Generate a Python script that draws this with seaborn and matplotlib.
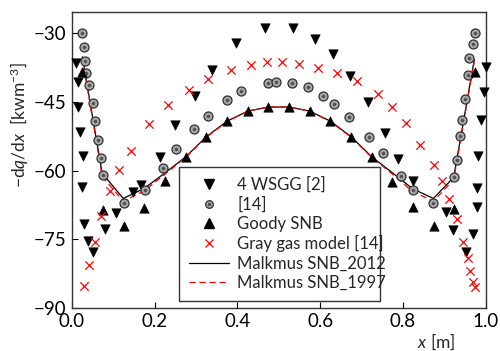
import matplotlib
matplotlib.use("Agg")
import matplotlib.pyplot as plt
import seaborn as sns
import pandas as pd
from matplotlib.lines import Line2D

# ---- data ----
wsgg_x = [0.010, 0.014, 0.015, 0.019, 0.026, 0.023, 0.029, 0.039, 0.050, 0.080, 0.106, 0.147,
          0.168, 0.213, 0.249, 0.297, 0.338, 0.396, 0.467, 0.535, 0.587, 0.632, 0.672, 0.716,
          0.757, 0.788, 0.824, 0.904, 0.922, 0.952, 0.969, 0.980, 0.980, 0.981, 0.990, 0.996, 1.000]
wsgg_y = [-36.4, -40.6, -46.1, -51.5, -56.8, -63.7, -71.8, -75.4, -77.8, -72.8, -69.2, -64.8,
          -63.2, -57.0, -50.1, -43.7, -37.9, -32.0, -28.8, -28.8, -31.3, -34.6, -39.3, -45.1,
          -51.7, -57.4, -62.2, -69.1, -73.0, -77.9, -73.8, -63.9, -67.9, -56.8, -49.0, -42.8, -37.3]

ref14_x = [0.023, 0.028, 0.032, 0.035, 0.042, 0.050, 0.055, 0.063, 0.069, 0.074, 0.126, 0.176,
           0.219, 0.251, 0.294, 0.330, 0.375, 0.409, 0.473, 0.494, 0.531, 0.570, 0.607, 0.634,
           0.671, 0.719, 0.753, 0.795, 0.825, 0.873, 0.924, 0.930, 0.938, 0.942, 0.950, 0.958,
           0.960, 0.969, 0.974]
ref14_y = [-29.9, -33.0, -36.1, -38.6, -41.2, -45.3, -49.1, -53.3, -57.2, -61.0, -67.0, -64.3,
           -59.5, -55.3, -51.0, -48.0, -44.6, -42.6, -40.8, -40.6, -40.8, -41.7, -43.6, -45.5,
           -48.2, -52.6, -56.2, -61.2, -64.3, -67.2, -61.4, -57.7, -52.5, -49.0, -44.4, -39.0,
           -35.3, -32.3, -30.0]

goody_x = [0.025, 0.075, 0.125, 0.175, 0.225, 0.275, 0.325, 0.375, 0.425, 0.475,
           0.525, 0.575, 0.625, 0.675, 0.725, 0.775, 0.825, 0.875, 0.925, 0.975]
goody_y = [-38.5, -68.6, -72.1, -68.1, -62.3, -57.0, -52.6, -49.2, -47.0, -46.1,
           -46.1, -47.0, -49.2, -52.6, -57.0, -62.5, -67.9, -72.1, -68.5, -38.4]

gray_x = [0.029, 0.041, 0.056, 0.069, 0.092, 0.114, 0.142, 0.187, 0.231, 0.284, 0.330, 0.384,
          0.433, 0.471, 0.508, 0.549, 0.595, 0.641, 0.690, 0.740, 0.774, 0.807, 0.841, 0.875,
          0.895, 0.912, 0.931, 0.946, 0.957, 0.962, 0.969, 0.974]
gray_y = [-85.3, -80.7, -75.7, -70.0, -64.4, -59.9, -55.7, -49.9, -45.7, -42.4, -40.0, -37.9,
          -36.9, -36.3, -36.3, -36.6, -37.5, -38.6, -40.5, -43.3, -46.2, -49.7, -54.4, -58.8,
          -62.3, -66.3, -70.6, -75.7, -79.1, -81.9, -84.3, -85.4]

line_x = [0.025, 0.073, 0.124, 0.175, 0.225, 0.275, 0.325, 0.375, 0.425, 0.475,
          0.525, 0.575, 0.625, 0.675, 0.725, 0.775, 0.824, 0.874, 0.923, 0.973]
malk2012_y = [-35.1, -60.6, -66.1, -63.9, -60.5, -57.0, -52.6, -49.2, -47.0, -46.1,
              -46.1, -47.0, -49.2, -52.6, -57.0, -60.5, -64.0, -66.1, -61.5, -35.7]
malk1997_y = [-35.4, -61.3, -66.7, -64.4, -60.8, -57.1, -52.7, -49.3, -47.0, -46.1,
              -46.1, -47.0, -49.3, -52.7, -57.1, -60.8, -64.6, -66.7, -62.0, -36.0]

xticks = [0.0, 0.2, 0.4, 0.6, 0.8, 1.0]
yticks = [-90, -75, -60, -45, -30]

labels = ["4 WSGG [2]", "[14]", "Goody SNB", "Gray gas model [14]",
          "Malkmus SNB_2012", "Malkmus SNB_1997"]

# ---- plot ----
sns.set_style("ticks")
plt.rcParams['font.family'] = ['Lato', 'DejaVu Sans']
plt.rcParams['mathtext.fontset'] = 'custom'
plt.rcParams['mathtext.it'] = 'Lato:italic'
plt.rcParams['mathtext.rm'] = 'Lato'
plt.rcParams['xtick.direction'] = 'in'
plt.rcParams['ytick.direction'] = 'in'

fig = plt.figure(figsize=(5.0, 3.51), dpi=100)
ax = fig.add_axes([0.144, 0.1234, 0.827, 0.8426])

df_w = pd.DataFrame({"x": wsgg_x, "y": wsgg_y})
df_c = pd.DataFrame({"x": ref14_x, "y": ref14_y})
df_g = pd.DataFrame({"x": goody_x, "y": goody_y})
df_r = pd.DataFrame({"x": gray_x, "y": gray_y})
df_l = pd.DataFrame({"x": line_x, "a": malk2012_y, "b": malk1997_y})

sns.lineplot(data=df_l, x="x", y="a", ax=ax, color="black", lw=0.9, sort=False,
             estimator=None, zorder=2)
sns.lineplot(data=df_l, x="x", y="b", ax=ax, color="red", lw=0.9, sort=False,
             estimator=None, dashes=False, zorder=2.1, linestyle=(0, (5, 3)))

sns.scatterplot(data=df_w, x="x", y="y", ax=ax, marker="v", s=45, color="black",
                edgecolor="black", linewidth=0.5, zorder=3, clip_on=False)
sns.scatterplot(data=df_c, x="x", y="y", ax=ax, marker="o", s=42, color="#a8a8a8",
                edgecolor="#303030", linewidth=0.9, zorder=3)
sns.scatterplot(data=df_c, x="x", y="y", ax=ax, marker="o", s=5, color="#505050",
                edgecolor="#505050", linewidth=0.3, zorder=3.1)
sns.scatterplot(data=df_g, x="x", y="y", ax=ax, marker="^", s=45, color="black",
                edgecolor="black", linewidth=0.5, zorder=3)
sns.scatterplot(data=df_r, x="x", y="y", ax=ax, marker="x", s=36, color="red",
                linewidth=0.9, zorder=3)

ax.set_xlim(0, 1)
ax.set_ylim(-90, -25.3)
ax.set_xticks(xticks)
ax.set_xticklabels([f"{v:.1f}" for v in xticks])
ax.set_yticks(yticks)
ax.set_yticklabels([f"\u2212{abs(v)}" for v in yticks])
ax.tick_params(labelsize=13.5, length=4, width=0.8, pad=4, colors="black")
for sp in ax.spines.values():
    sp.set_linewidth(1.0)
    sp.set_color("#333333")

ax.set_xlabel("")
ax.set_ylabel("")
fig.text(0.872, 0.027, "$x$ [m]", fontsize=12.5, ha="center", va="center")
fig.text(0.040, 0.644, "\u2212d$q$/d$x$  [kwm$^{-3}$]", fontsize=12.5,
         ha="center", va="center", rotation=90)

h_w = Line2D([], [], marker="v", ls="none", color="black", ms=6.5)
h_c1 = Line2D([], [], marker="o", ls="none", mfc="#a8a8a8", mec="#303030", ms=5.5, mew=0.9)
h_c2 = Line2D([], [], marker="o", ls="none", mfc="#505050", mec="#505050", ms=1.5)
h_g = Line2D([], [], marker="^", ls="none", color="black", ms=6.5)
h_r = Line2D([], [], marker="x", ls="none", color="red", ms=5.5, mew=0.9)
h_a = Line2D([], [], color="black", lw=0.9)
h_b = Line2D([], [], color="red", lw=0.9, ls=(0, (5, 3)))
leg = ax.legend([h_w, (h_c1, h_c2), h_g, h_r, h_a, h_b], labels,
                loc="lower left", bbox_to_anchor=(0.259, 0.023, 0.486, 0.456),
                mode="expand", fontsize=12, frameon=True, fancybox=False,
                handlelength=2.4, handletextpad=0.5, labelspacing=0.2,
                borderpad=0.6, borderaxespad=0.0)
leg.get_frame().set_edgecolor("#333333")
leg.get_frame().set_linewidth(1.0)
leg.get_frame().set_alpha(1.0)

fig.savefig("out.png", dpi=100)
